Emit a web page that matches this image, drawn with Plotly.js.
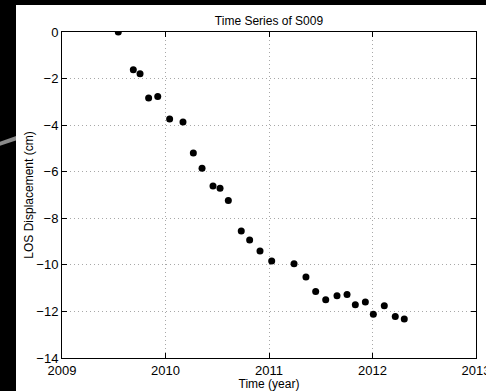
<!DOCTYPE html>
<html>
<head>
<meta charset="utf-8">
<script src="https://cdn.plot.ly/plotly-3.0.1.min.js"></script>
<style>
  html, body { margin: 0; padding: 0; background: #000; width: 486px; height: 391px; overflow: hidden; }
  #chart { position: absolute; left: 16px; top: 5px; width: 500px; height: 386px; }
  #stripe { position: absolute; left: -2px; top: 139px; width: 20px; height: 4px; background: #8a8a8a; transform: rotate(-19deg); transform-origin: center; }
</style>
</head>
<body>
<div id="stripe"></div>
<div id="chart"></div>
<script>
// Time (decimal year) and LOS displacement (cm) for station S009
const timeYear = [
  2009.544, 2009.689, 2009.754, 2009.837, 2009.925, 2010.040, 2010.169,
  2010.269, 2010.353, 2010.459, 2010.527, 2010.607, 2010.732, 2010.813,
  2010.913, 2011.026, 2011.242, 2011.357, 2011.451, 2011.548, 2011.657,
  2011.754, 2011.834, 2011.931, 2012.008, 2012.114, 2012.220, 2012.307
];
const losDisp = [
  0.00, -1.62, -1.79, -2.83, -2.77, -3.74, -3.86,
  -5.20, -5.85, -6.61, -6.71, -7.24, -8.55, -8.93,
  -9.41, -9.83, -9.95, -10.52, -11.14, -11.50, -11.33,
  -11.27, -11.71, -11.60, -12.12, -11.76, -12.22, -12.32
];
const xTicks = [2009, 2010, 2011, 2012, 2013];
const yTicks = [0, -2, -4, -6, -8, -10, -12, -14];
const yTickText = ["0", "\u22122", "\u22124", "\u22126", "\u22128", "\u221210", "\u221212", "\u221214"];

const font = "Liberation Sans, Arial, Helvetica, sans-serif";

const trace = {
  x: timeYear,
  y: losDisp,
  type: "scatter",
  mode: "markers",
  marker: { color: "#000", size: 7 },
  hoverinfo: "skip"
};

const axisCommon = {
  showline: true,
  linecolor: "#000",
  linewidth: 1,
  mirror: "ticks",
  ticks: "inside",
  ticklen: 5,
  tickwidth: 1,
  tickcolor: "#000",
  showgrid: true,
  gridcolor: "#a8a8a8",
  gridwidth: 1,
  griddash: "1px,3px",
  zeroline: false,
  tickfont: { family: font, size: 13, color: "#000" }
};

const layout = {
  width: 500,
  height: 386,
  margin: { l: 46, r: 40, t: 27, b: 33 },
  paper_bgcolor: "#fff",
  plot_bgcolor: "#fff",
  showlegend: false,
  title: {
    text: "Time Series of S009",
    font: { family: font, size: 12, color: "#000" },
    x: 0.5,
    xref: "paper",
    y: 1,
    yref: "paper",
    yanchor: "bottom",
    pad: { b: 7 }
  },
  xaxis: Object.assign({}, axisCommon, {
    range: [2009, 2013],
    tickvals: xTicks,
    ticktext: xTicks.map(String),
    tickangle: 0,
    title: { text: "Time (year)", font: { family: font, size: 12, color: "#000" }, standoff: 0 }
  }),
  yaxis: Object.assign({}, axisCommon, {
    range: [-14, 0],
    tickvals: yTicks,
    ticktext: yTickText,
    title: { text: "LOS Displacement (cm)", font: { family: font, size: 12, color: "#000" }, standoff: 0 }
  })
};

Plotly.newPlot("chart", [trace], layout, { displayModeBar: false, staticPlot: true });
</script>
</body>
</html>
